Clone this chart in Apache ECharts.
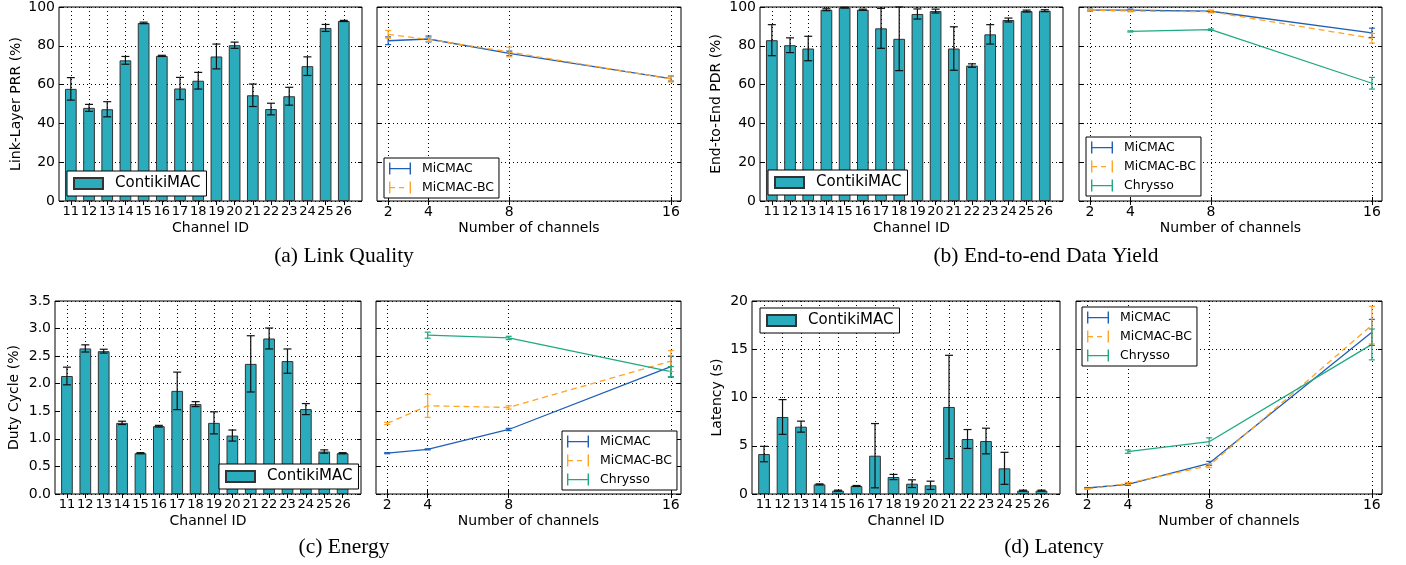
<!DOCTYPE html>
<html>
<head>
<meta charset="utf-8">
<script src="https://cdn.jsdelivr.net/npm/echarts@6/dist/echarts.min.js"></script>
<style>
html, body { margin: 0; padding: 0; background: #fff; }
#chart { width: 1406px; height: 565px; }
</style>
</head>
<body>
<div id="chart"></div>
<script>
// channel ids (bar charts) and number of channels (line charts)
const channels = [11, 12, 13, 14, 15, 16, 17, 18, 19, 20, 21, 22, 23, 24, 25, 26];
const nChannels = [2, 4, 8, 16];
const chryssoChannels = [4, 8, 16];

// (a) link quality
const prrMean = [57.8, 48.0, 47.3, 72.5, 91.8, 74.8, 58.0, 62.0, 74.5, 80.3, 54.5, 47.4, 54.0, 69.5, 89.2, 92.8];
const prrErr = [5.8, 1.8, 3.9, 2.0, 0.4, 0.3, 5.7, 4.3, 6.4, 1.6, 5.8, 3.0, 4.6, 4.8, 1.8, 0.3];
const prrMicmac = [82.6, 83.5, 76.1, 63.1];
const prrMicmacErr = [2.0, 1.5, 1.2, 1.3];
const prrMicmacBc = [85.9, 83.3, 76.8, 62.9];
const prrMicmacBcErr = [2.0, 1.0, 2.5, 1.6];

// (b) end-to-end data yield
const pdrMean = [82.9, 80.3, 78.6, 98.6, 99.7, 98.6, 89.0, 83.6, 96.4, 97.9, 78.6, 69.8, 85.9, 93.3, 97.9, 98.1];
const pdrErr = [8.0, 3.8, 6.3, 0.5, 0.2, 0.3, 10.3, 16.4, 2.6, 1.0, 11.2, 0.9, 5.0, 1.0, 0.5, 0.5];
const pdrMicmac = [98.4, 98.4, 97.8, 86.7];
const pdrMicmacErr = [0.5, 0.5, 0.5, 2.4];
const pdrMicmacBc = [98.4, 97.9, 97.6, 83.9];
const pdrMicmacBcErr = [0.4, 0.4, 0.6, 2.5];
const pdrChrysso = [87.4, 88.3, 60.7];
const pdrChryssoErr = [0.3, 0.4, 3.0];

// (c) energy
const dutyMean = [2.14, 2.64, 2.59, 1.29, 0.74, 1.23, 1.87, 1.63, 1.29, 1.06, 2.36, 2.82, 2.41, 1.54, 0.77, 0.74];
const dutyErr = [0.16, 0.065, 0.035, 0.03, 0.01, 0.015, 0.34, 0.045, 0.2, 0.1, 0.51, 0.19, 0.22, 0.1, 0.03, 0.01];
const dutyMicmac = [0.74, 0.81, 1.17, 2.31];
const dutyMicmacErr = [0.01, 0.01, 0.02, 0.19];
const dutyMicmacBc = [1.28, 1.60, 1.57, 2.41];
const dutyMicmacBcErr = [0.02, 0.21, 0.03, 0.19];
const dutyChrysso = [2.88, 2.83, 2.22];
const dutyChryssoErr = [0.055, 0.03, 0.09];

// (d) latency
const latMean = [4.14, 7.98, 6.98, 1.0, 0.35, 0.83, 3.97, 1.76, 1.07, 0.9, 9.02, 5.7, 5.49, 2.66, 0.35, 0.35];
const latErr = [0.8, 1.8, 0.57, 0.05, 0.05, 0.05, 3.33, 0.27, 0.4, 0.43, 5.35, 0.98, 1.33, 1.66, 0.05, 0.05];
const latMicmac = [0.62, 1.0, 3.18, 16.75];
const latMicmacErr = [0.05, 0.1, 0.2, 1.35];
const latMicmacBc = [0.52, 1.1, 2.94, 17.5];
const latMicmacBcErr = [0.05, 0.1, 0.2, 1.95];
const latChrysso = [4.39, 5.42, 15.5];
const latChryssoErr = [0.17, 0.4, 1.6];

const captions = ['(a) Link Quality', '(b) End-to-end Data Yield', '(c) Energy', '(d) Latency'];

const FONT = 'DejaVu Sans';
const TEAL = '#2aacbd';
const BLUE = '#1f5fb8';
const ORANGE = '#ffa424';
const GREEN = '#1fa982';
const dotted = { color: '#000', width: 1, type: [1, 3] };
const H_ICON = 'path://M0,0h1.4v12h-1.4zM20.6,0h1.4v12h-1.4zM0,5.4h22v1.3h-22z';
const HD_ICON = 'path://M0,0h1.4v12h-1.4zM20.6,0h1.4v12h-1.4zM0,5.4h6v1.3h-6zM10,5.4h5v1.3h-5z';

// plot frames, left to right, top to bottom
const frames = [
    { left: 59, top: 7, width: 303, height: 194 },
    { left: 377, top: 7, width: 304, height: 194 },
    { left: 760, top: 7, width: 303, height: 194 },
    { left: 1079, top: 7, width: 303, height: 194 },
    { left: 55, top: 301, width: 306, height: 193 },
    { left: 376, top: 301, width: 305, height: 193 },
    { left: 752, top: 301, width: 308, height: 193 },
    { left: 1076, top: 301, width: 306, height: 193 }
];

const panels = [
    { name: 'Link-Layer PRR (%)', max: 100, interval: 20, gap: 36, digits: 0 },
    { name: 'End-to-End PDR (%)', max: 100, interval: 20, gap: 37, digits: 0 },
    { name: 'Duty Cycle (%)', max: 3.5, interval: 0.5, gap: 34, digits: 1 },
    { name: 'Latency (s)', max: 20, interval: 5, gap: 28, digits: 0 }
];

const grid = frames.map(f => ({
    left: f.left, top: f.top, width: f.width, height: f.height,
    show: true, borderColor: '#000', borderWidth: 1, backgroundColor: 'transparent'
}));

const xAxis = [];
const yAxis = [];
const tickStyle = { inside: true, length: 4, lineStyle: { color: '#000' } };
frames.forEach((f, g) => {
    const isBar = g % 2 === 0;
    const ticks = isBar ? channels : nChannels;
    const xMin = isBar ? 10.35 : 1.45;
    const xMax = isBar ? 27 : 16.5;
    xAxis.push({
        type: 'value', gridIndex: g, min: xMin, max: xMax,
        axisLine: { show: false },
        axisTick: Object.assign({ customValues: ticks }, tickStyle),
        axisLabel: { customValues: ticks, fontFamily: FONT, fontSize: isBar ? 13 : 14, color: '#000', margin: 4 },
        splitLine: { show: true, lineStyle: dotted },
        name: isBar ? 'Channel ID' : 'Number of channels',
        nameLocation: 'middle', nameGap: 20,
        nameTextStyle: { fontFamily: FONT, fontSize: 14, color: '#000' }
    });
    const p = panels[Math.floor(g / 2)];
    yAxis.push({
        type: 'value', gridIndex: g, min: 0, max: p.max, interval: p.interval,
        axisLine: { show: false },
        axisTick: tickStyle,
        axisLabel: {
            show: isBar, fontFamily: FONT, fontSize: 14, color: '#000', margin: 4,
            formatter: v => v.toFixed(p.digits)
        },
        splitLine: { show: true, lineStyle: dotted },
        name: isBar ? p.name : '', nameLocation: 'middle', nameGap: p.gap,
        nameTextStyle: { fontFamily: FONT, fontSize: 14, color: '#000' }
    });
});
// mirrored ticks on the top and right edges of every frame
frames.forEach((f, g) => {
    const isBar = g % 2 === 0;
    const p = panels[Math.floor(g / 2)];
    xAxis.push({
        type: 'value', gridIndex: g, position: 'top',
        min: isBar ? 10.35 : 1.45, max: isBar ? 27 : 16.5,
        axisLine: { show: false }, splitLine: { show: false },
        axisTick: Object.assign({ customValues: isBar ? channels : nChannels }, tickStyle),
        axisLabel: { show: false }
    });
    yAxis.push({
        type: 'value', gridIndex: g, position: 'right', min: 0, max: p.max, interval: p.interval,
        axisLine: { show: false }, splitLine: { show: false },
        axisTick: tickStyle, axisLabel: { show: false }
    });
});

// error bars: vertical line with caps, clipped at the top of the frame
function errorBars(capHalf, color, width) {
    return function (params, api) {
        const x = api.value(0);
        const lo = api.coord([x, api.value(1)]);
        const hi = api.coord([x, api.value(2)]);
        const cs = params.coordSys;
        const topY = Math.max(hi[1], cs.y);
        const st = { stroke: color, lineWidth: width };
        const children = [
            { type: 'line', shape: { x1: lo[0], y1: lo[1], x2: lo[0], y2: topY }, style: st },
            { type: 'line', shape: { x1: lo[0] - capHalf, y1: lo[1], x2: lo[0] + capHalf, y2: lo[1] }, style: st }
        ];
        if (hi[1] >= cs.y) {
            children.push({ type: 'line', shape: { x1: hi[0] - capHalf, y1: hi[1], x2: hi[0] + capHalf, y2: hi[1] }, style: st });
        }
        return { type: 'group', children: children };
    };
}

const series = [];

function addBars(g, mean, err) {
    series.push({
        type: 'bar', name: 'ContikiMAC', xAxisIndex: g, yAxisIndex: g,
        data: channels.map((c, i) => [c, mean[i]]),
        barWidth: 11.7,
        itemStyle: { color: TEAL, borderColor: '#333', borderWidth: 1 },
        z: 2
    });
    series.push({
        type: 'custom', name: 'ContikiMAC err', xAxisIndex: g, yAxisIndex: g,
        data: channels.map((c, i) => [c, mean[i] - err[i], mean[i] + err[i]]),
        encode: { x: 0, y: [1, 2] },
        renderItem: errorBars(4, '#111', 1.2),
        z: 3
    });
}

function addLine(g, name, color, xs, mean, err, dashed) {
    series.push({
        type: 'line', name: name, xAxisIndex: g, yAxisIndex: g,
        data: xs.map((x, i) => [x, mean[i]]),
        symbol: 'none', color: color,
        lineStyle: { color: color, width: 1.3, type: dashed ? [6, 4] : 'solid' },
        z: 3
    });
    series.push({
        type: 'custom', name: name + ' err', xAxisIndex: g, yAxisIndex: g,
        data: xs.map((x, i) => [x, mean[i] - err[i], mean[i] + err[i]]),
        encode: { x: 0, y: [1, 2] },
        renderItem: errorBars(3, color, 1.2),
        z: 4
    });
}

addBars(0, prrMean, prrErr);
addLine(1, 'MiCMAC', BLUE, nChannels, prrMicmac, prrMicmacErr, false);
addLine(1, 'MiCMAC-BC', ORANGE, nChannels, prrMicmacBc, prrMicmacBcErr, true);

addBars(2, pdrMean, pdrErr);
addLine(3, 'MiCMAC', BLUE, nChannels, pdrMicmac, pdrMicmacErr, false);
addLine(3, 'MiCMAC-BC', ORANGE, nChannels, pdrMicmacBc, pdrMicmacBcErr, true);
addLine(3, 'Chrysso', GREEN, chryssoChannels, pdrChrysso, pdrChryssoErr, false);

addBars(4, dutyMean, dutyErr);
addLine(5, 'MiCMAC', BLUE, nChannels, dutyMicmac, dutyMicmacErr, false);
addLine(5, 'MiCMAC-BC', ORANGE, nChannels, dutyMicmacBc, dutyMicmacBcErr, true);
addLine(5, 'Chrysso', GREEN, chryssoChannels, dutyChrysso, dutyChryssoErr, false);

addBars(6, latMean, latErr);
addLine(7, 'MiCMAC', BLUE, nChannels, latMicmac, latMicmacErr, false);
addLine(7, 'MiCMAC-BC', ORANGE, nChannels, latMicmacBc, latMicmacBcErr, true);
addLine(7, 'Chrysso', GREEN, chryssoChannels, latChrysso, latChryssoErr, false);

const boxStyle = {
    orient: 'vertical', backgroundColor: '#fff', borderColor: '#000', borderWidth: 1,
    borderRadius: 0, selectedMode: false, symbolKeepAspect: false
};
function barLegend(left, top) {
    return Object.assign({}, boxStyle, {
        left: left, top: top, padding: [5, 6],
        itemWidth: 29, itemHeight: 11,
        data: [{ name: 'ContikiMAC', icon: 'rect' }],
        textStyle: { fontFamily: FONT, fontSize: 15, color: '#000', padding: [0, 0, 0, 7] }
    });
}
function lineLegend(left, top, names) {
    const icons = { 'MiCMAC': H_ICON, 'MiCMAC-BC': HD_ICON, 'Chrysso': H_ICON };
    return Object.assign({}, boxStyle, {
        left: left, top: top, padding: [4, 5],
        itemWidth: 22, itemHeight: 12, itemGap: 6,
        itemStyle: { borderWidth: 0 },
        data: names.map(n => ({ name: n, icon: icons[n] })),
        textStyle: { fontFamily: FONT, fontSize: 12.5, color: '#000', padding: [0, 0, 0, 6] }
    });
}
const three = ['MiCMAC', 'MiCMAC-BC', 'Chrysso'];

const legend = [
    barLegend(67, 171),
    lineLegend(384, 158, ['MiCMAC', 'MiCMAC-BC']),
    barLegend(768, 170),
    lineLegend(1086, 137, three),
    barLegend(219, 464),
    lineLegend(562, 431, three),
    barLegend(760, 308),
    lineLegend(1082, 307, three)
];

const captionPos = [[344, 256], [1046, 256], [344, 547], [1054, 547]];
const graphic = captions.map((t, i) => ({
    type: 'text', x: captionPos[i][0], y: captionPos[i][1],
    style: { text: t, font: '21.5px "Liberation Serif"', fill: '#000', align: 'center', verticalAlign: 'middle' }
}));

const chart = echarts.init(document.getElementById('chart'));
chart.setOption({
    animation: false,
    backgroundColor: '#fff',
    grid: grid,
    xAxis: xAxis,
    yAxis: yAxis,
    legend: legend,
    graphic: graphic,
    series: series
});
</script>
</body>
</html>
